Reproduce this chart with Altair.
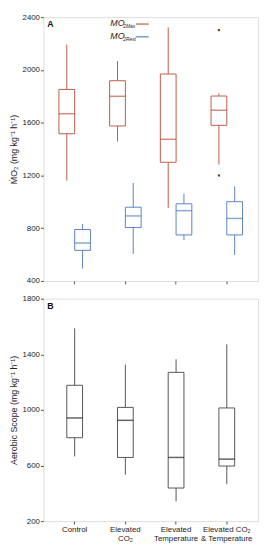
import altair as alt
import pandas as pd

categories = ["Control", "Elevated|CO₂", "Elevated|Temperature", "Elevated CO₂|& Temperature"]

# Panel A: MO2Max
max_low = [1161, 1457, 952, 1283]
max_q1 = [1516, 1575, 1300, 1580]
max_med = [1668, 1800, 1474, 1694]
max_q3 = [1852, 1918, 1969, 1802]
max_high = [2192, 2067, 2322, 1822]
max_out_cat = ["Elevated CO₂|& Temperature", "Elevated CO₂|& Temperature"]
max_out_val = [2302, 1200]

# Panel A: MO2Rest
rest_low = [494, 604, 709, 597]
rest_q1 = [632, 805, 749, 749]
rest_med = [687, 893, 933, 874]
rest_q3 = [790, 959, 985, 1001]
rest_high = [832, 1143, 1062, 1117]

# Panel B: Aerobic scope
as_low = [665, 534, 342, 466]
as_q1 = [800, 658, 438, 596]
as_med = [942, 925, 658, 646]
as_q3 = [1177, 1018, 1270, 1014]
as_high = [1587, 1326, 1364, 1471]

ticks_a = list(range(400, 2401, 200))
ticks_b = list(range(200, 1801, 200))

FONT = "Liberation Sans"
MAX_C = "#bf5b45"
MAX_MED = "#9c3522"
REST_C = "#5b82c6"
REST_MED = "#2e4f8c"

rowsA = []
for i, c in enumerate(categories):
    rowsA.append(dict(cat=c, s="Max", low=max_low[i], q1=max_q1[i], med=max_med[i], q3=max_q3[i], high=max_high[i]))
    rowsA.append(dict(cat=c, s="Rest", low=rest_low[i], q1=rest_q1[i], med=rest_med[i], q3=rest_q3[i], high=rest_high[i]))
dfA = pd.DataFrame(rowsA)
dfOut = pd.DataFrame(dict(cat=max_out_cat, s=["Max"] * len(max_out_cat), v=max_out_val))
dfB = pd.DataFrame(dict(cat=categories, low=as_low, q1=as_q1, med=as_med, q3=as_q3, high=as_high))

W = 218
HA = 268
HB = 226

xscale = alt.Scale(domain=categories, paddingInner=0, paddingOuter=0.116)
offscale = alt.Scale(domain=["Max", "Rest"], paddingInner=0, paddingOuter=0.61)
colscale = alt.Scale(domain=["Max", "Rest"], range=[MAX_C, REST_C])
medscale = alt.Scale(domain=["Max", "Rest"], range=[MAX_MED, REST_MED])

xA = alt.X("cat:N", scale=xscale, sort=categories,
           axis=alt.Axis(labels=False, title=None, ticks=True, tickSize=3, domain=False,
                         tickColor="#555"))
yaxA = alt.Axis(values=ticks_a, tickSize=3, tickColor="#555", domain=False, grid=False,
                labelExpr="datum.value % 400 == 0 ? datum.value : ''",
                labelFont=FONT, labelFontSize=8, labelColor="#222", labelPadding=1,
                title="ṀO₂ (mg kg⁻¹ h⁻¹)", titleFont=FONT, titleFontSize=9,
                titleFontWeight="normal", titleColor="#222", titlePadding=4)
ysA = alt.Scale(domain=[400, 2400], nice=False, zero=False)

base = alt.Chart(dfA)
whA = base.mark_rule(strokeWidth=1).encode(
    x=xA, xOffset=alt.XOffset("s:N", scale=offscale),
    y=alt.Y("low:Q", scale=ysA, axis=yaxA), y2="high:Q",
    color=alt.Color("s:N", scale=colscale, legend=None))
boxA = base.mark_bar(fill="white", strokeWidth=1, size=16).encode(
    x=xA, xOffset=alt.XOffset("s:N", scale=offscale),
    y=alt.Y("q1:Q", scale=ysA), y2="q3:Q",
    stroke=alt.Color("s:N", scale=colscale, legend=None))
medA = base.mark_tick(thickness=1.5, size=16, orient="horizontal").encode(
    x=xA, xOffset=alt.XOffset("s:N", scale=offscale),
    y=alt.Y("med:Q", scale=ysA),
    color=alt.Color("s:N", scale=medscale, legend=None))
outA = alt.Chart(dfOut).mark_point(shape="square", filled=True, size=5, color="#6b4a1e", opacity=1).encode(
    x=xA, xOffset=alt.XOffset("s:N", scale=offscale),
    y=alt.Y("v:Q", scale=ysA))

leg_labels = ["2Max", "2Rest"]
leg_colors = [MAX_C, REST_C]
leg_y = [6, 19]
legend_layers = []
one = pd.DataFrame(dict(t=["x"]))
for lab, col, ly in zip(leg_labels, leg_colors, leg_y):
    legend_layers.append(alt.Chart(one).mark_text(
        text="MO", font=FONT, fontSize=9, fontStyle="italic", align="left",
        baseline="middle", color="#222").encode(x=alt.value(68), y=alt.value(ly)))
    legend_layers.append(alt.Chart(one).mark_text(
        text=lab, font=FONT, fontSize=5, fontStyle="italic", align="left",
        baseline="middle", color="#222").encode(x=alt.value(81), y=alt.value(ly + 3)))
    legend_layers.append(alt.Chart(one).mark_rule(strokeWidth=1.2, color=col).encode(
        x=alt.value(94), x2=alt.value(107), y=alt.value(ly + 1)))

letA = alt.Chart(pd.DataFrame(dict(t=["A"]))).mark_text(
    font=FONT, fontSize=9, fontWeight="bold", align="left", baseline="top", color="#111").encode(
    x=alt.value(4), y=alt.value(3), text="t:N")

panelA = alt.layer(whA, boxA, medA, outA, *legend_layers, letA).properties(width=W, height=HA)

# Panel B
xB = alt.X("cat:N", scale=xscale, sort=categories,
           axis=alt.Axis(title=None, ticks=True, tickSize=3, domain=False, tickColor="#555",
                         labelAngle=0, labelFont=FONT, labelFontSize=8, labelColor="#222",
                         labelExpr="split(datum.label, '|')", labelPadding=2, labelLineHeight=9))
yaxB = alt.Axis(values=ticks_b, tickSize=3, tickColor="#555", domain=False, grid=False,
                labelExpr="datum.value % 400 == 200 ? datum.value : ''",
                labelFont=FONT, labelFontSize=8, labelColor="#222", labelPadding=1,
                title="Aerobic Scope (mg kg⁻¹ h⁻¹)", titleFont=FONT, titleFontSize=9,
                titleFontWeight="normal", titleColor="#222", titlePadding=4)
ysB = alt.Scale(domain=[200, 1800], nice=False, zero=False)
bb = alt.Chart(dfB)
whB = bb.mark_rule(strokeWidth=1, color="#555").encode(
    x=xB, y=alt.Y("low:Q", scale=ysB, axis=yaxB), y2="high:Q")
boxB = bb.mark_bar(fill="white", stroke="#555", strokeWidth=1, size=16).encode(
    x=xB, y=alt.Y("q1:Q", scale=ysB), y2="q3:Q")
medB = bb.mark_tick(thickness=1.5, size=16, orient="horizontal", color="#222").encode(
    x=xB, y=alt.Y("med:Q", scale=ysB))
letB = alt.Chart(pd.DataFrame(dict(t=["B"]))).mark_text(
    font=FONT, fontSize=9, fontWeight="bold", align="left", baseline="top", color="#111").encode(
    x=alt.value(4), y=alt.value(4), text="t:N")
panelB = alt.layer(whB, boxB, medB, letB).properties(width=W, height=HB)

chart = alt.vconcat(panelA, panelB, spacing=8).properties(
    padding={"left": 0, "top": 0, "right": 0, "bottom": 0}
).configure_view(stroke="#777", strokeWidth=1.2).configure(background="white")

chart.save("out.html", embed_options={"renderer": "svg", "actions": False})
